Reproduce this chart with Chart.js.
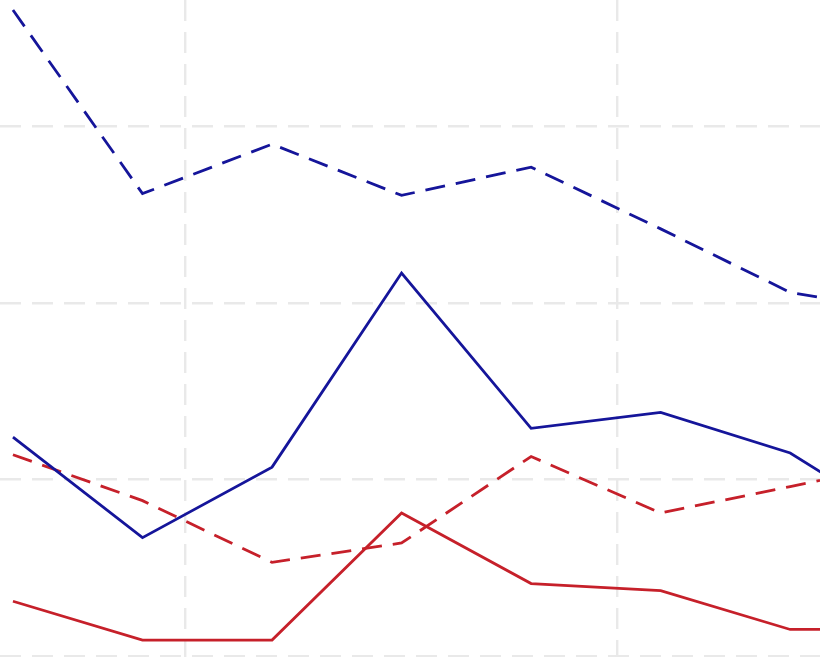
<!DOCTYPE html>
<html>
<head>
<meta charset="utf-8">
<script src="https://cdn.jsdelivr.net/npm/chart.js@4/dist/chart.umd.min.js"></script>
<style>
  html, body { margin: 0; padding: 0; background: #fff; }
  canvas { display: block; }
</style>
</head>
<body>
<canvas id="chart" width="820" height="657"></canvas>
<script>
// years on the x axis (the last one sits just past the right edge)
const years = [2001, 2004, 2007, 2010, 2013, 2016, 2019, 2022];

const blueDashed = [36.6, 26.2, 29.0, 26.1, 27.7, 24.2, 20.6, 19.4];
const blueSolid = [12.4, 6.7, 10.7, 21.7, 12.9, 13.8, 11.5, 6.9];
const redDashed = [11.4, 8.8, 5.3, 6.4, 11.3, 8.1, 9.6, 11.1];
const redSolid = [3.1, 0.9, 0.9, 8.1, 4.1, 3.7, 1.5, 1.5];

// gridline positions
const xGrid = [2005, 2015];
const yGrid = [0, 10, 20, 30];

const BLUE = "#15159a";
const RED = "#c6202a";
const GRID = "#e9e9e9";

const toPoints = (vals) => vals.map((v, i) => ({x: years[i], y: v}));

const makeSet = (label, vals, color, dashed) => ({
    label: label,
    data: toPoints(vals),
    borderColor: color,
    backgroundColor: color,
    borderWidth: 2.8,
    borderDash: dashed ? [20, 11] : [],
    pointRadius: 0,
    tension: 0,
    fill: false
});

const ctx = document.getElementById("chart").getContext("2d");
new Chart(ctx, {
    type: "line",
    data: {
        datasets: [
            makeSet("blue dashed", blueDashed, BLUE, true),
            makeSet("blue", blueSolid, BLUE, false),
            makeSet("red dashed", redDashed, RED, true),
            makeSet("red", redSolid, RED, false)
        ]
    },
    options: {
        responsive: false,
        animation: false,
        devicePixelRatio: 1,
        layout: {padding: 0},
        plugins: {
            legend: {display: false},
            tooltip: {enabled: false}
        },
        scales: {
            x: {
                type: "linear",
                min: 2000.7,
                max: 2019.69,
                afterBuildTicks: (s) => { s.ticks = xGrid.map((v) => ({value: v})); },
                ticks: {display: false},
                grid: {color: GRID, lineWidth: 2.4, drawTicks: false},
                border: {display: false, dash: [21, 11]}
            },
            y: {
                type: "linear",
                min: -0.06,
                max: 37.17,
                afterBuildTicks: (s) => { s.ticks = yGrid.map((v) => ({value: v})); },
                ticks: {display: false},
                grid: {color: GRID, lineWidth: 2.4, drawTicks: false},
                border: {display: false, dash: [21, 11]}
            }
        }
    }
});
</script>
</body>
</html>
